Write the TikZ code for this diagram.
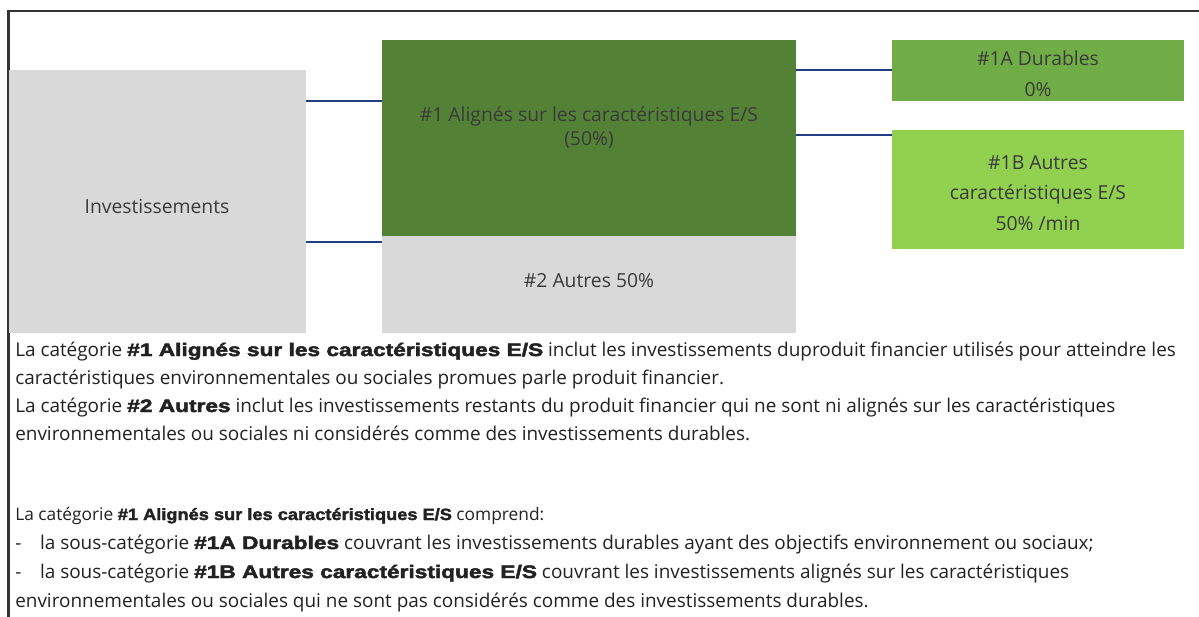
\documentclass[tikz,border=0pt]{standalone}
\usepackage{fontspec}
\setmainfont{Open Sans}
\newfontfamily\blk{Liberation Sans Bold}[FakeBold=2.6,FakeStretch=1.26]
\newfontfamily\blkn{Liberation Sans Bold}[FakeBold=2.2,FakeStretch=1.12]
\newcommand\bodyblk[1]{{\fontsize{13.5}{16}\blk #1}}
\newcommand\smallblk[1]{{\fontsize{12.2}{15}\blkn #1}}
\definecolor{boxgray}{HTML}{D9D9D9}
\definecolor{gdark}{HTML}{538135}
\definecolor{gmid}{HTML}{70AD47}
\definecolor{glight}{HTML}{92D050}
\definecolor{linkblue}{HTML}{1F3F80}
\definecolor{framegray}{HTML}{333333}
\definecolor{boxtext}{HTML}{3A3A3A}
\definecolor{bodytext}{HTML}{222222}
\tikzset{
  px/.style={x=0.75pt,y=-0.75pt},
  blk box/.style={draw=none,inner sep=0pt,outer sep=0pt,anchor=north west},
  box label/.style={text=boxtext,align=center,inner sep=0pt,font=\fontsize{14.5}{23}\selectfont},
  conn/.style={draw=linkblue,line width=2pt},
  frameline/.style={draw=framegray,line width=2pt},
  body/.style={anchor=base west,inner sep=0pt,text=bodytext,font=\fontsize{14.2}{17}\selectfont},
  bodysmall/.style={anchor=base west,inner sep=0pt,text=bodytext,font=\fontsize{13}{15}\selectfont},
}
\begin{document}
\begin{tikzpicture}[px]
\useasboundingbox (0,0) rectangle (1199,617);
\fill[white] (0,0) rectangle (1199,617);
% frame
\coordinate (fb) at (8.7,617);
\coordinate (fc) at (8.7,11);
\coordinate (fr) at (1199,11);
\draw[frameline] (fb) -- (fc) -- (fr);
% boxes
\node[blk box,fill=boxgray,minimum width={297*0.75pt},minimum height={263*0.75pt}] (inv) at (9,70) {};
\node[blk box,fill=gdark,minimum width={414*0.75pt},minimum height={196*0.75pt}] (g1) at (382,40) {};
\node[blk box,fill=boxgray,minimum width={414*0.75pt},minimum height={97*0.75pt}] (g2) at (382,236) {};
\node[blk box,fill=gmid,minimum width={292*0.75pt},minimum height={61*0.75pt}] (ga) at (892,40) {};
\node[blk box,fill=glight,minimum width={292*0.75pt},minimum height={119*0.75pt}] (gb) at (892,130) {};
% labels
\node[box label] (invt) at (157,206) {Investissements};
\node[box label,font=\fontsize{14.5}{18}\selectfont] (g1t) at (589,128) {\#1 Alignés sur les caractéristiques E/S\\(50\%)};
\node[box label] (g2t) at (589,281) {\#2 Autres 50\%};
\node[box label] (gat) at (1038,74) {\#1A Durables\\0\%};
\node[box label] (gbt) at (1038,193) {\#1B Autres\\caractéristiques E/S\\50\% /min};
% connectors
\coordinate (y1) at (0,101);
\coordinate (y2) at (0,242);
\coordinate (y3) at (0,70);
\coordinate (y4) at (0,135);
\draw[conn] (inv.east |- y1) -- (g1.west |- y1);
\draw[conn] (inv.east |- y2) -- (g2.west |- y2);
\draw[conn] (g1.east |- y3) -- (ga.west |- y3);
\draw[conn] (g1.east |- y4) -- (gb.west |- y4);
% body text
\node[body] (t1) at (15,356) {La catégorie \bodyblk{\#1 Alignés sur les caractéristiques E/S} inclut les investissements duproduit financier utilisés pour atteindre les};
\node[body] (t2) at (15,384) {caractéristiques environnementales ou sociales promues parle produit financier.};
\node[body] (t3) at (15,412) {La catégorie \bodyblk{\#2 Autres} inclut les investissements restants du produit financier qui ne sont ni alignés sur les caractéristiques};
\node[body] (t4) at (15,440) {environnementales ou sociales ni considérés comme des investissements durables.};
\node[bodysmall] (t5) at (15,520) {La catégorie \smallblk{\#1 Alignés sur les caractéristiques E/S} comprend:};
\node[body] (t6) at (15,549) {-\hspace{14pt}la sous-catégorie \bodyblk{\#1A Durables} couvrant les investissements durables ayant des objectifs environnement ou sociaux;};
\node[body] (t7) at (15,578) {-\hspace{14pt}la sous-catégorie \bodyblk{\#1B Autres caractéristiques E/S} couvrant les investissements alignés sur les caractéristiques};
\node[body] (t8) at (15,607) {environnementales ou sociales qui ne sont pas considérés comme des investissements durables.};
\end{tikzpicture}
\end{document}
